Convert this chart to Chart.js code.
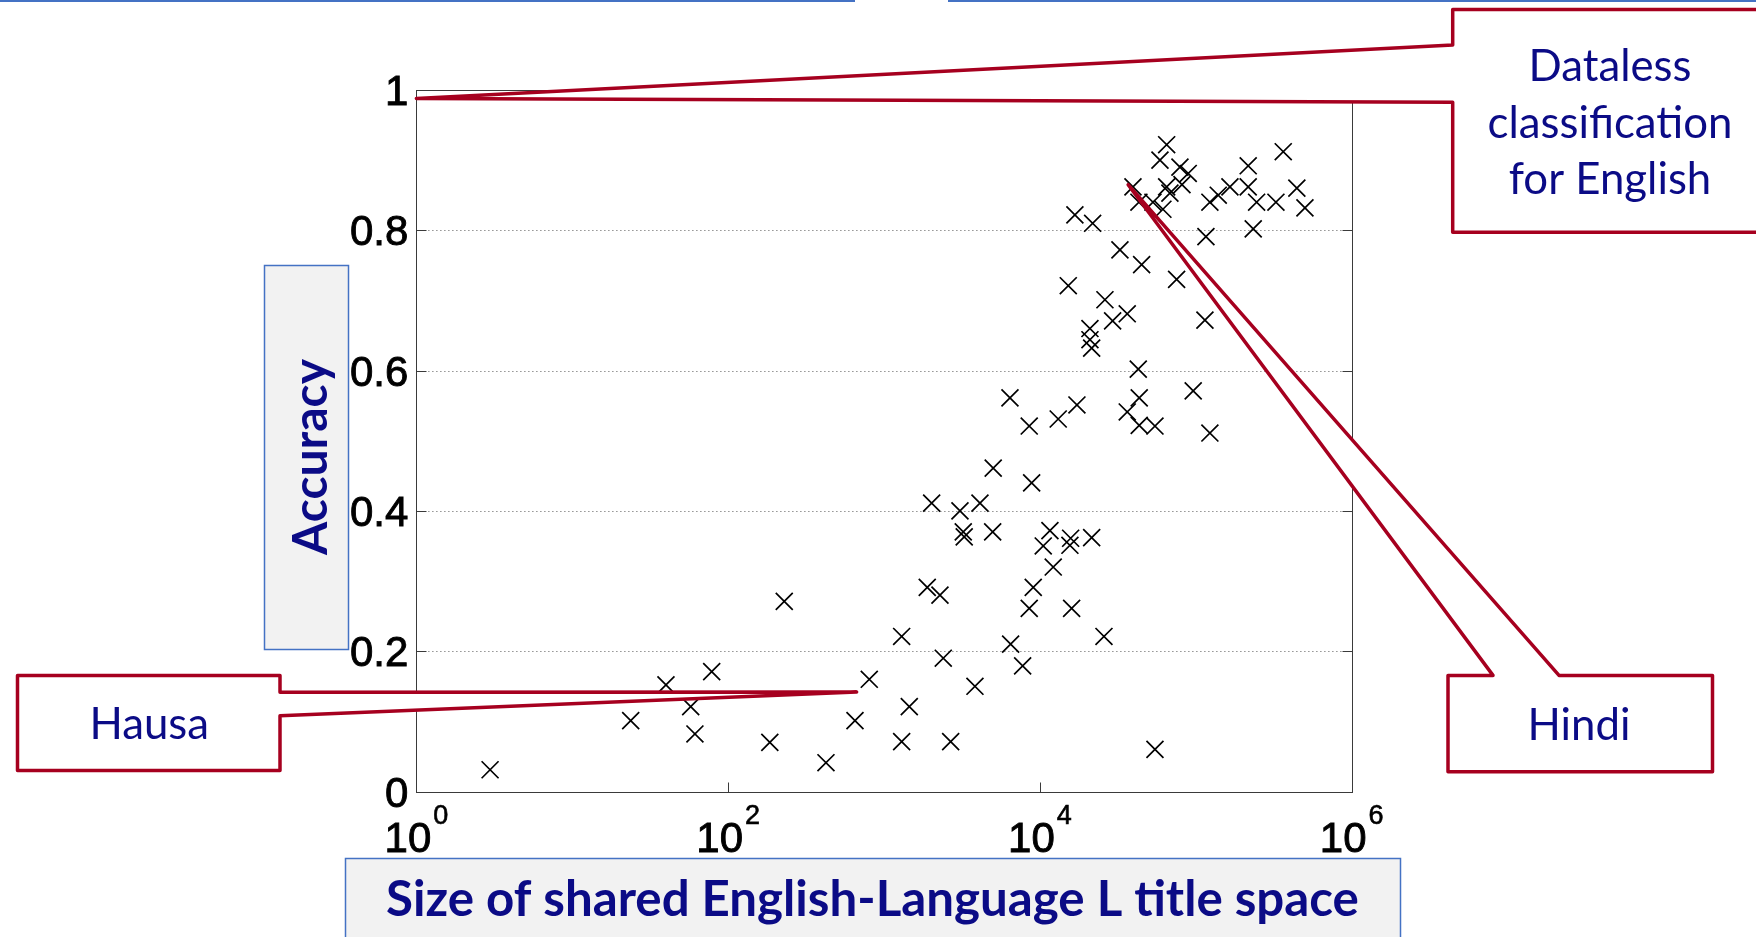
<!DOCTYPE html>
<html>
<head>
<meta charset="utf-8">
<script src="https://cdn.jsdelivr.net/npm/chart.js@4.4.1/dist/chart.umd.min.js"></script>
<style>
html,body{margin:0;padding:0;background:#fff;overflow:hidden;}
#wrap{position:relative;width:1756px;height:937px;}
</style>
</head>
<body>
<div id="wrap"><canvas id="c"></canvas></div>
<script>
// ---- data ----
const sharedTitleSpaceSize = [
  2.97, 23.7, 39.9, 57.5, 61.2, 78.4, 185, 229, 424, 651,
  804, 1297, 1297, 1452, 1893, 2020, 2284, 2398, 2675, 3069,
  3222, 3268, 3829, 4124, 4975, 5015, 6423, 6486, 7745, 8537,
  8537, 8848, 9059, 10500, 11590, 12170, 13100, 15200, 15570, 15740,
  15970, 16760, 17270, 20930, 20930, 21470, 21470, 21780, 25750, 26120,
  29260, 32600, 36310, 36310, 39520, 42740, 43350, 43350, 43150, 44910,
  53090, 54690, 54690, 58880, 61500, 65000, 65000, 68200, 75300, 79100,
  81500, 89400, 96200, 114400, 116100, 123100, 123100, 139300, 165500, 216800,
  216800, 233500, 245500, 326500, 363800, 444800, 501200
];
const accuracy = [
  0.031, 0.101, 0.152, 0.121, 0.082, 0.171, 0.070, 0.271, 0.041, 0.101,
  0.160, 0.221, 0.071, 0.121, 0.291, 0.411, 0.280, 0.190, 0.071, 0.400,
  0.370, 0.363, 0.150, 0.411, 0.370, 0.461, 0.561, 0.210, 0.179, 0.521,
  0.261, 0.440, 0.291, 0.350, 0.372, 0.320, 0.531, 0.721, 0.351, 0.361,
  0.261, 0.822, 0.551, 0.660, 0.644, 0.632, 0.362, 0.810, 0.221, 0.701,
  0.671, 0.772, 0.681, 0.541, 0.862, 0.602, 0.561, 0.522, 0.840, 0.751,
  0.840, 0.521, 0.060, 0.900, 0.830, 0.922, 0.862, 0.853, 0.730, 0.890,
  0.865, 0.881, 0.571, 0.672, 0.791, 0.511, 0.840, 0.850, 0.862, 0.892,
  0.862, 0.802, 0.840, 0.840, 0.912, 0.860, 0.832
];
const xTickExponents = [0, 2, 4, 6];
const yTickValues = [0, 0.2, 0.4, 0.6, 0.8, 1];
const yTickLabels = ['0', '0.2', '0.4', '0.6', '0.8', '1'];
const xAxisTitle = 'Size of shared English-Language L title space';
const yAxisTitle = 'Accuracy';
const calloutLabels = [['Dataless', 'classification', 'for English'], ['Hindi'], ['Hausa']];
const calloutTargetX = [1, 36800, 667];
const calloutTargetY = [0.988, 0.865, 0.142];

// ---- styles ----
const RED = '#a6001f';
const NAVY = '#0b0b86';
const BLUE = '#4472c4';
const BOXFILL = '#f2f2f2';
const TICKFONT = '"Liberation Sans", Arial, sans-serif';
const TEXTFONT = 'Lato, "Open Sans", sans-serif';

function fitSize(ctx, text, weight, family, targetW) {
  ctx.font = weight + ' 100px ' + family;
  return 100 * targetW / ctx.measureText(text).width;
}

function heavyText(ctx, txt, x, y) {
  ctx.fillText(txt, x, y);
  ctx.strokeText(txt, x, y);
}

const points = sharedTitleSpaceSize.map((v, i) => ({x: v, y: accuracy[i]}));

const framePlugin = {
  id: 'frame',
  beforeDatasetsDraw(chart) {
    const {ctx, chartArea: a, scales: {x, y}} = chart;
    ctx.save();
    // dotted grid
    ctx.strokeStyle = '#5a5a5a';
    ctx.lineWidth = 1;
    ctx.setLineDash([1, 3]);
    yTickValues.forEach(v => {
      if (v === 0 || v === 1) return;
      const py = Math.round(y.getPixelForValue(v)) + 0.5;
      ctx.beginPath(); ctx.moveTo(a.left, py); ctx.lineTo(a.right, py); ctx.stroke();
    });
    ctx.setLineDash([]);
    // frame
    ctx.strokeStyle = '#3a3a3a';
    const L = Math.round(a.left) + 0.5, R = Math.round(a.right) + 0.5;
    const T = Math.round(a.top) + 0.5, B = Math.round(a.bottom) + 0.5;
    ctx.strokeRect(L, T, R - L, B - T);
    // inward ticks
    const tl = 10;
    yTickValues.forEach(v => {
      if (v === 0 || v === 1) return;
      const py = Math.round(y.getPixelForValue(v)) + 0.5;
      ctx.beginPath();
      ctx.moveTo(L, py); ctx.lineTo(L + tl, py);
      ctx.moveTo(R, py); ctx.lineTo(R - tl, py);
      ctx.stroke();
    });
    xTickExponents.forEach(e => {
      if (e === 0 || e === 6) return;
      const px = Math.round(x.getPixelForValue(Math.pow(10, e))) + 0.5;
      ctx.beginPath();
      ctx.moveTo(px, B); ctx.lineTo(px, B - tl);
      ctx.moveTo(px, T); ctx.lineTo(px, T + tl);
      ctx.stroke();
    });
    ctx.restore();
  },
  afterDatasetsDraw(chart) {
    const {ctx, chartArea: a, scales: {x, y}} = chart;
    ctx.save();
    // y tick labels
    ctx.fillStyle = '#000';
    ctx.strokeStyle = '#000';
    ctx.lineWidth = 0.9;
    ctx.font = '42px ' + TICKFONT;
    ctx.textAlign = 'right';
    ctx.textBaseline = 'alphabetic';
    yTickValues.forEach((v, i) => {
      const py = y.getPixelForValue(v);
      heavyText(ctx, yTickLabels[i], a.left - 8, py + 0.358 * 42);
    });
    // x tick labels 10^e
    xTickExponents.forEach(e => {
      const px = x.getPixelForValue(Math.pow(10, e));
      ctx.font = '42px ' + TICKFONT;
      const w10 = ctx.measureText('10').width;
      ctx.font = '27px ' + TICKFONT;
      const ws = ctx.measureText(String(e)).width;
      const start = px - (w10 + 2 + ws) / 2;
      ctx.textAlign = 'left';
      ctx.font = '42px ' + TICKFONT;
      heavyText(ctx, '10', start, a.bottom + 60);
      ctx.font = '27px ' + TICKFONT;
      ctx.lineWidth = 0.6;
      heavyText(ctx, String(e), start + w10 + 2, a.bottom + 32);
      ctx.lineWidth = 0.9;
    });

    // axis title boxes
    ctx.lineWidth = 1.5;
    ctx.strokeStyle = BLUE;
    ctx.fillStyle = BOXFILL;
    ctx.fillRect(264.5, 265.5, 84, 384);
    ctx.strokeRect(264.5, 265.5, 84, 384);
    ctx.fillRect(345.5, 858.5, 1055, 90);
    ctx.strokeRect(345.5, 858.5, 1055, 90);

    ctx.fillStyle = NAVY;
    ctx.textAlign = 'center';
    let fs = fitSize(ctx, xAxisTitle, 'bold', TEXTFONT, 973);
    ctx.font = 'bold ' + fs + 'px ' + TEXTFONT;
    ctx.fillText(xAxisTitle, 872.5, 916);
    fs = fitSize(ctx, yAxisTitle, 'bold', TEXTFONT, 196);
    ctx.font = 'bold ' + fs + 'px ' + TEXTFONT;
    ctx.save();
    ctx.translate(327, 457);
    ctx.rotate(-Math.PI / 2);
    ctx.fillText(yAxisTitle, 0, 0);
    ctx.restore();

    // top blue lines
    ctx.strokeStyle = BLUE;
    ctx.lineWidth = 2;
    ctx.beginPath();
    ctx.moveTo(0, 1); ctx.lineTo(855, 1);
    ctx.moveTo(948, 1); ctx.lineTo(1756, 1);
    ctx.stroke();

    // callouts
    const tips = calloutTargetX.map((v, i) => [x.getPixelForValue(v), y.getPixelForValue(calloutTargetY[i])]);
    ctx.lineWidth = 3.5;
    ctx.strokeStyle = RED;
    ctx.fillStyle = '#fff';
    ctx.lineJoin = 'round';
    // Dataless
    ctx.beginPath();
    ctx.moveTo(1770, 9.5); ctx.lineTo(1452.7, 9.5); ctx.lineTo(1452.7, 45);
    ctx.lineTo(tips[0][0], tips[0][1]);
    ctx.lineTo(1452.7, 102.3); ctx.lineTo(1452.7, 232.3); ctx.lineTo(1770, 232.3);
    ctx.closePath(); ctx.fill(); ctx.stroke();
    // Hindi
    ctx.beginPath();
    ctx.moveTo(1448, 675.4); ctx.lineTo(1493, 675.4);
    ctx.lineTo(tips[1][0], tips[1][1]);
    ctx.lineTo(1559, 675.4); ctx.lineTo(1712.5, 675.4); ctx.lineTo(1712.5, 771.7);
    ctx.lineTo(1448, 771.7); ctx.closePath(); ctx.fill(); ctx.stroke();
    // Hausa
    ctx.beginPath();
    ctx.moveTo(17.5, 675.6); ctx.lineTo(280, 675.6); ctx.lineTo(280, 692.3);
    ctx.lineTo(tips[2][0], tips[2][1]);
    ctx.lineTo(280, 715.7); ctx.lineTo(280, 770.5); ctx.lineTo(17.5, 770.5);
    ctx.closePath(); ctx.fill(); ctx.stroke();

    // callout texts
    const cs = fitSize(ctx, 'classification', 'normal', TEXTFONT, 245);
    ctx.font = cs + 'px ' + TEXTFONT;
    ctx.fillStyle = NAVY;
    ctx.textAlign = 'center';
    const dl = calloutLabels[0];
    [80.5, 138, 193.5].forEach((by, i) => ctx.fillText(dl[i], 1610, by));
    ctx.fillText(calloutLabels[1][0], 1579, 740);
    ctx.fillText(calloutLabels[2][0], 149.2, 739);
    ctx.restore();
  }
};

new Chart(document.getElementById('c'), {
  type: 'scatter',
  data: {
    datasets: [{
      data: points,
      pointStyle: 'crossRot',
      radius: 12,
      hoverRadius: 12,
      borderColor: '#000',
      backgroundColor: 'rgba(0,0,0,0)',
      borderWidth: 1.7,
      showLine: false
    }]
  },
  options: {
    responsive: true,
    maintainAspectRatio: false,
    devicePixelRatio: 1,
    animation: false,
    events: [],
    layout: {padding: {left: 416.4, right: 404.3, top: 90, bottom: 145.5}},
    plugins: {legend: {display: false}, tooltip: {enabled: false}},
    scales: {
      x: {
        type: 'logarithmic', min: 1, max: 1e6,
        ticks: {display: false}, grid: {display: false}, border: {display: false},
        afterFit(s) { s.height = 0; }
      },
      y: {
        type: 'linear', min: 0, max: 1,
        ticks: {display: false}, grid: {display: false}, border: {display: false},
        afterFit(s) { s.width = 0; }
      }
    }
  },
  plugins: [framePlugin]
});
</script>
</body>
</html>
